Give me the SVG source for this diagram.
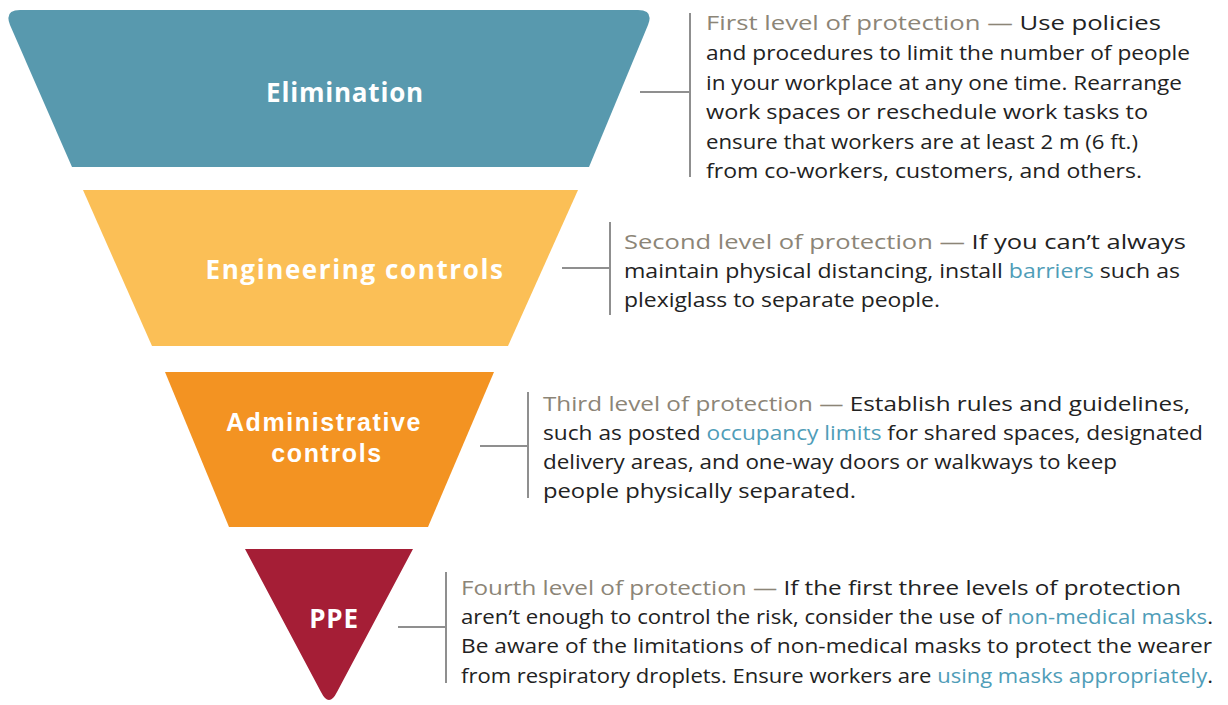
<svg xmlns="http://www.w3.org/2000/svg" width="1228" height="705" viewBox="0 0 1228 705">
<style>
.lbl{font-family:"Open Sans","Liberation Sans",sans-serif;font-weight:700;font-size:26px;text-anchor:middle;fill:#ffffff;letter-spacing:0.8px}
.lbl2{font-family:"Liberation Sans",Arial,sans-serif;font-weight:700;font-size:25px;text-anchor:middle;fill:#ffffff;letter-spacing:1.6px}
.body{font-family:"Open Sans","Liberation Sans",sans-serif;font-size:20px;fill:#222222}
.hd{fill:#8c8577}
.lk{fill:#4f9db8}
.con{stroke:#8f8f8f;stroke-width:2;fill:none}
</style>
<rect width="1228" height="705" fill="#ffffff"/>
<g id="elimination">
<path d="M20,10 L638,10 Q654,10 648,25 L589,167 L72,167 L10,25 Q4,10 20,10 Z" fill="#5899ae"/>
<text class="lbl" x="345" y="102">Elimination</text>
</g>
<g id="engineering">
<polygon points="83,190 578,190 508,346 152,346" fill="#fbbf56"/>
<text class="lbl" x="355" y="279" fill="#fff8ea" style="letter-spacing:1.6px">Engineering controls</text>
</g>
<g id="administrative">
<polygon points="165,372 494,372 428,527 229,527" fill="#f39322"/>
<text class="lbl2" x="324" y="431">Administrative</text>
<text class="lbl2" x="327" y="462">controls</text>
</g>
<g id="ppe">
<path d="M245,549 L413,549 L337,692 Q329,708 321,692 Z" fill="#a51e36"/>
<text class="lbl" x="334" y="628">PPE</text>
</g>
<g id="connectors">
<path class="con" d="M640,92 H690 M690,13 V177"/>
<path class="con" d="M562,268 H610 M610,222 V315"/>
<path class="con" d="M480,446 H528 M528,392 V498"/>
<path class="con" d="M398,627 H446 M446,572 V683"/>
</g>
<g id="text1" class="body">
<text x="706" y="30" textLength="455" lengthAdjust="spacingAndGlyphs"><tspan class="hd">First level of protection — </tspan>Use policies</text>
<text x="706" y="60" textLength="484" lengthAdjust="spacingAndGlyphs">and procedures to limit the number of people</text>
<text x="706" y="90" textLength="476" lengthAdjust="spacingAndGlyphs">in your workplace at any one time. Rearrange</text>
<text x="706" y="119" textLength="442" lengthAdjust="spacingAndGlyphs">work spaces or reschedule work tasks to</text>
<text x="706" y="149" textLength="432" lengthAdjust="spacingAndGlyphs">ensure that workers are at least 2 m (6 ft.)</text>
<text x="706" y="178" textLength="436" lengthAdjust="spacingAndGlyphs">from co-workers, customers, and others.</text>
</g>
<g id="text2" class="body">
<text x="624" y="249" textLength="562" lengthAdjust="spacingAndGlyphs"><tspan class="hd">Second level of protection — </tspan>If you can’t always</text>
<text x="624" y="278" textLength="556" lengthAdjust="spacingAndGlyphs">maintain physical distancing, install <tspan class="lk">barriers</tspan> such as</text>
<text x="624" y="307" textLength="316" lengthAdjust="spacingAndGlyphs">plexiglass to separate people.</text>
</g>
<g id="text3" class="body">
<text x="543" y="411" textLength="647" lengthAdjust="spacingAndGlyphs"><tspan class="hd">Third level of protection — </tspan>Establish rules and guidelines,</text>
<text x="543" y="440" textLength="660" lengthAdjust="spacingAndGlyphs">such as posted <tspan class="lk">occupancy limits</tspan> for shared spaces, designated</text>
<text x="543" y="469" textLength="574" lengthAdjust="spacingAndGlyphs">delivery areas, and one-way doors or walkways to keep</text>
<text x="543" y="498" textLength="313" lengthAdjust="spacingAndGlyphs">people physically separated.</text>
</g>
<g id="text4" class="body">
<text x="461" y="595" textLength="720" lengthAdjust="spacingAndGlyphs"><tspan class="hd">Fourth level of protection — </tspan>If the first three levels of protection</text>
<text x="461" y="624" textLength="752" lengthAdjust="spacingAndGlyphs">aren’t enough to control the risk, consider the use of <tspan class="lk">non-medical masks</tspan>.</text>
<text x="461" y="653" textLength="751" lengthAdjust="spacingAndGlyphs">Be aware of the limitations of non-medical masks to protect the wearer</text>
<text x="461" y="683" textLength="752" lengthAdjust="spacingAndGlyphs">from respiratory droplets. Ensure workers are <tspan class="lk">using masks appropriately</tspan>.</text>
</g>
</svg>
